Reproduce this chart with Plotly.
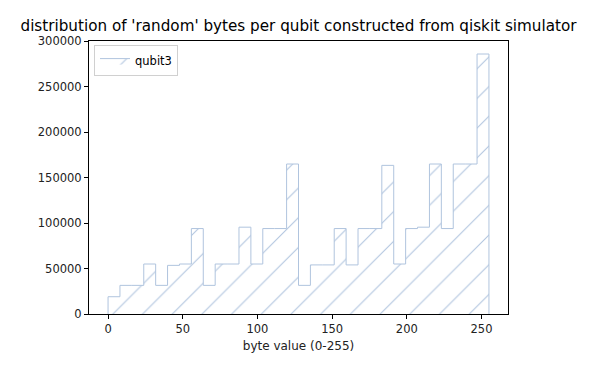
import plotly.graph_objects as go

# Histogram data (32 bins over 0-255)
bin_count = 32
value_min = 0
value_max = 255
counts = [19000, 31500, 31500, 55000, 31500, 53500, 55000, 94000,
          31500, 55000, 55000, 95500, 55000, 94000, 94000, 165000,
          31500, 54000, 54000, 94000, 54000, 94000, 94000, 163500,
          55000, 94000, 95500, 165000, 94000, 165000, 165000, 286000]
series_name = "qubit3"
x_ticks = [0, 50, 100, 150, 200, 250]
y_ticks = [0, 50000, 100000, 150000, 200000, 250000, 300000]
title_text = "distribution of 'random' bytes per qubit constructed from qiskit simulator"
x_label = "byte value (0-255)"

# bin edges like numpy.histogram(bins=32, range=(0,255))
width = (value_max - value_min) / bin_count
edges = [value_min + i * width for i in range(bin_count + 1)]

# step outline path
xs = [edges[0], edges[0]] + edges[1:] + [edges[-1]]
ys = [0, counts[0]] + counts[1:] + [counts[-1], 0]

color = "#b0c4de"
font = "DejaVu Sans"

# the page body has an 8px default margin; figure is sized to fit inside it
W, H = 577, 358
OFF = 8

fig = go.Figure()
fig.add_trace(go.Scatter(
    x=xs, y=ys, mode="lines", line=dict(shape="hv", color=color, width=1),
    fill="tozeroy", fillcolor="rgba(0,0,0,0)",
    fillpattern=dict(shape="/", size=21, solidity=0.05, fgcolor=color,
                     bgcolor="rgba(0,0,0,0)", fgopacity=1),
    name=series_name, showlegend=True,
))

axis_common = dict(showline=True, linecolor="black", linewidth=1, mirror=True,
                   ticks="outside", ticklen=4, tickcolor="black", showgrid=False,
                   zeroline=False, tickfont=dict(family=font, size=11.5, color="#222"))

fig.update_layout(
    width=W, height=H,
    margin=dict(l=89 - OFF, r=W - (508 - OFF), t=41 - OFF, b=H - (314 - OFF)),
    paper_bgcolor="white", plot_bgcolor="white",
    font=dict(family=font, color="#222"),
    title=dict(text=title_text, x=0.5, xref="paper", xanchor="center",
               y=1 - (26 - OFF) / H, yref="container", yanchor="middle",
               font=dict(family=font, size=15.2, color="black")),
    xaxis=dict(range=[value_min - 0.05 * (value_max - value_min),
                      value_max + 0.05 * (value_max - value_min)],
               tickvals=x_ticks,
               title=dict(text=x_label, font=dict(family=font, size=12, color="#222"), standoff=6),
               **axis_common),
    yaxis=dict(range=[0, max(counts) * 1.05], tickvals=y_ticks, tickformat="d",
               **axis_common),
    legend=dict(x=0.012, y=0.985, xanchor="left", yanchor="top",
                bordercolor="#d0d0d0", borderwidth=1, bgcolor="white",
                font=dict(family=font, size=11.5, color="black")),
)

fig.write_html("out.html")
